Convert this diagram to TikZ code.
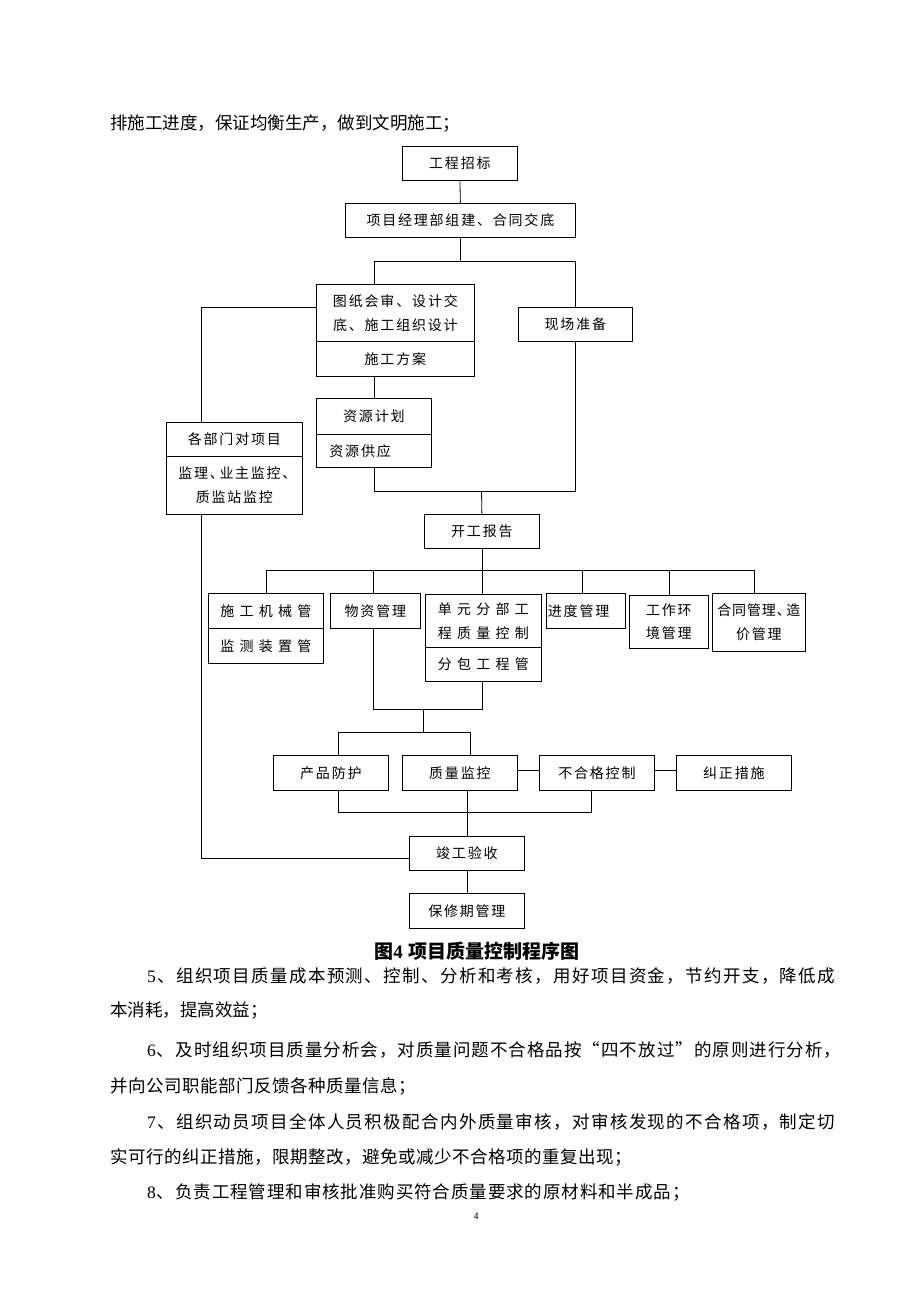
\documentclass[tikz,border=0pt]{standalone}
\usepackage{fontspec}
\setmainfont{Liberation Serif}
\newfontfamily\cjk{Noto Sans CJK SC}
\makeatletter
\newcommand\ls[2]{\@tfor\@ch:=#2\do{{\@ch}\kern#1}\kern-#1\relax}
\newcommand\jl[2]{\hbox to #1{\@tfor\@ch:=#2\do{{\@ch}\hfil}\unskip}}
\makeatother
\newcommand\sx[1]{\ls{1.8pt}{#1}}
\newcommand\wx[1]{\ls{5.3pt}{#1}}
\newcommand\boxfont{\cjk\fontsize{14}{23.5}\selectfont}
\newcommand\bodyfont{\cjk\fontsize{17.5}{20}\selectfont}
\pgfdeclarelayer{bg}
\pgfsetlayers{bg,main}
\tikzset{
  box/.style={draw=black, fill=white, line width=0.8pt, inner sep=0pt, anchor=north west, font=\boxfont, align=center},
  lbox/.style={box, align=left},
  ln/.style={draw=black, line width=0.8pt},
  txt/.style={font=\bodyfont, inner sep=0pt, anchor=west}
}
\begin{document}
\begin{tikzpicture}[x=1pt,y=-1pt]
\begin{pgfonlayer}{bg}
\fill[white] (0,0) rectangle (920,1302);
\end{pgfonlayer}
\useasboundingbox (0,0) rectangle (920,1302);

% top text
\node[txt] (p0) at (110,123) {排施工进度，保证均衡生产，做到文明施工；};

% boxes
\node[box,minimum width=115pt,minimum height=34pt] (zb) at (402,146) {\sx{工程招标}};
\node[box,minimum width=230pt,minimum height=34pt] (xm) at (345,203) {\sx{项目经理部组建、合同交底}};
\node[box,minimum width=158pt,minimum height=57pt] (tz) at (316,284) {\jl{125pt}{图纸会审、设计交}\\\sx{底、施工组织设计}};
\node[box,minimum width=158pt,minimum height=35pt] (fa) at (316,341) {\sx{施工方案}};
\node[box,minimum width=114pt,minimum height=34pt] (xc) at (518,307) {\sx{现场准备}};
\node[box,minimum width=115pt,minimum height=36pt] (zy1) at (316,398) {\sx{资源计划}};
\node[lbox,minimum width=115pt,minimum height=33pt,inner xsep=13pt,text width=89pt] (zy2) at (316,434) {\sx{资源供应}};
\node[box,minimum width=136pt,minimum height=34pt] (gb1) at (166,422) {\sx{各部门对项目}};
\node[box,minimum width=136pt,minimum height=58pt] (gb2) at (166,456) {\ls{1.7pt}{监理{\makebox[8pt][l]{、}}业主监控{\makebox[8pt][l]{、}}}\\\sx{质监站监控}};
\node[box,minimum width=115pt,minimum height=34pt] (kg) at (424,514) {\sx{开工报告}};
\node[box,minimum width=115pt,minimum height=35pt] (jx1) at (208,593) {\wx{施工机械管}};
\node[box,minimum width=115pt,minimum height=35pt] (jx2) at (208,628) {\wx{监测装置管}};
\node[box,minimum width=90pt,minimum height=35pt] (wz) at (330,593) {\sx{物资管理}};
\node[box,minimum width=116pt,minimum height=53pt] (dy1) at (425,594) {\wx{单元分部工}\\\wx{程质量控制}};
\node[box,minimum width=116pt,minimum height=34pt] (dy2) at (425,647) {\wx{分包工程管}};
\node[lbox,minimum width=79pt,minimum height=35pt,inner xsep=1.5pt,text width=76pt] (jd) at (546,593) {\sx{进度管理}};
\node[box,minimum width=79pt,minimum height=53pt] (gz) at (629,595) {\sx{工作环}\\\sx{境管理}};
\node[box,minimum width=93pt,minimum height=58pt] (ht) at (712,593) {\ls{0.8pt}{合同管理{\makebox[9pt][l]{、}}造}\\\sx{价管理}};
\node[box,minimum width=115pt,minimum height=35pt] (cp) at (273,755) {\sx{产品防护}};
\node[box,minimum width=115pt,minimum height=35pt] (zl) at (402,755) {\sx{质量监控}};
\node[box,minimum width=115pt,minimum height=35pt] (bh) at (539,755) {\sx{不合格控制}};
\node[box,minimum width=115pt,minimum height=35pt] (jz) at (676,755) {\sx{纠正措施}};
\node[box,minimum width=115pt,minimum height=34pt] (jg) at (409,836) {\sx{竣工验收}};
\node[box,minimum width=115pt,minimum height=35pt] (bx) at (409,893) {\sx{保修期管理}};

% helper coordinates
\coordinate (t1) at (374,261);
\coordinate (lft) at (201,307);
\coordinate (b2) at (481.5,491);
\coordinate (lb) at (201,858.7);
\coordinate (b3) at (0,570);
\coordinate (b4) at (423.7,709);
\coordinate (b5) at (423.7,732.3);
\coordinate (b6) at (0,812.7);

% connectors (behind the boxes)
\begin{pgfonlayer}{bg}
\draw[ln] (zb.south) -- (xm.north);
\draw[ln] (xm.south) -- (xm.south |- t1);
\draw[ln] ([xshift=58pt]tz.north west) -- (t1) -- (t1 -| xc.north) -- (xc.north);
\draw[ln] (tz.west |- lft) -- (lft) -- (lft |- gb1.north);
\draw[ln] (zy1.north) -- (zy1.north |- fa.south);
\draw[ln] (zy2.south) -- (zy2.south |- b2) -- (b2 -| xc.south) -- (xc.south);
\draw[ln] (b2) -- (kg.north);
\draw[ln] (gb2.south -| lft) -- (lb) -- (lb -| jg.west);

\draw[ln] (kg.south) -- (kg.south |- b3);
\draw[ln] (jx1.north) -- (jx1.north |- b3) -- ([xshift=-4.2pt]ht.north |- b3) -- ([xshift=-4.2pt]ht.north);
\draw[ln] ([xshift=-2pt]wz.north) -- ([xshift=-2pt]wz.north |- b3);
\draw[ln] ([xshift=-1.3pt]dy1.north) -- ([xshift=-1.3pt]dy1.north |- b3);
\draw[ln] ([xshift=-3.5pt]jd.north) -- ([xshift=-3.5pt]jd.north |- b3);
\draw[ln] (gz.north) -- (gz.north |- b3);

\draw[ln] ([xshift=-2pt]wz.south) -- ([xshift=-2pt]wz.south |- b4) -- ([xshift=-1.3pt]dy2.south |- b4) -- ([xshift=-1.3pt]dy2.south);
\draw[ln] (b4) -- (b5);
\draw[ln] ([xshift=7.2pt]cp.north) -- ([xshift=7.2pt]cp.north |- b5) -- ([xshift=10.8pt]zl.north |- b5) -- ([xshift=10.8pt]zl.north);
\draw[ln] ([yshift=2.5pt]zl.east) -- ([yshift=2.5pt]bh.west);
\draw[ln] ([yshift=2.5pt]bh.east) -- ([yshift=2.5pt]jz.west);
\draw[ln] ([xshift=7.2pt]cp.south) -- ([xshift=7.2pt]cp.south |- b6) -- ([xshift=-5.8pt]bh.south |- b6) -- ([xshift=-5.8pt]bh.south);
\draw[ln] ([xshift=7pt]zl.south) -- (jg.north);
\draw[ln] (jg.south) -- (bx.north);
\end{pgfonlayer}

% caption and body text
\node[font=\cjk\bfseries\fontsize{19}{19}\selectfont, inner sep=0pt] (cap) at (477,951) {图{\rmfamily\bfseries 4}\hspace{6pt}项目质量控制程序图};
\node[txt] (l5) at (147,976) {\jl{688pt}{{\rmfamily 5}、组织项目质量成本预测、控制、分析和考核，用好项目资金，节约开支，降低成}};
\node[txt] (l5b) at (110,1011) {本消耗，提高效益；};
\node[txt] (l6) at (147,1050) {\jl{694pt}{{\rmfamily 6}、及时组织项目质量分析会，对质量问题不合格品按“四不放过”的原则进行分析，}};
\node[txt] (l6b) at (110,1086) {\ls{0.5pt}{并向公司职能部门反馈各种质量信息；}};
\node[txt] (l7) at (147,1122) {\jl{688pt}{{\rmfamily 7}、组织动员项目全体人员积极配合内外质量审核，对审核发现的不合格项，制定切}};
\node[txt] (l7b) at (110,1157) {\ls{0.5pt}{实可行的纠正措施，限期整改，避免或减少不合格项的重复出现；}};
\node[txt] (l8) at (147,1192) {\ls{0.9pt}{{\rmfamily 8}、负责工程管理和审核批准购买符合质量要求的原材料和半成品；}};
\node[inner sep=0pt, font=\rmfamily\fontsize{10}{10}\selectfont] (pg) at (476,1216) {4};
\end{tikzpicture}
\end{document}
